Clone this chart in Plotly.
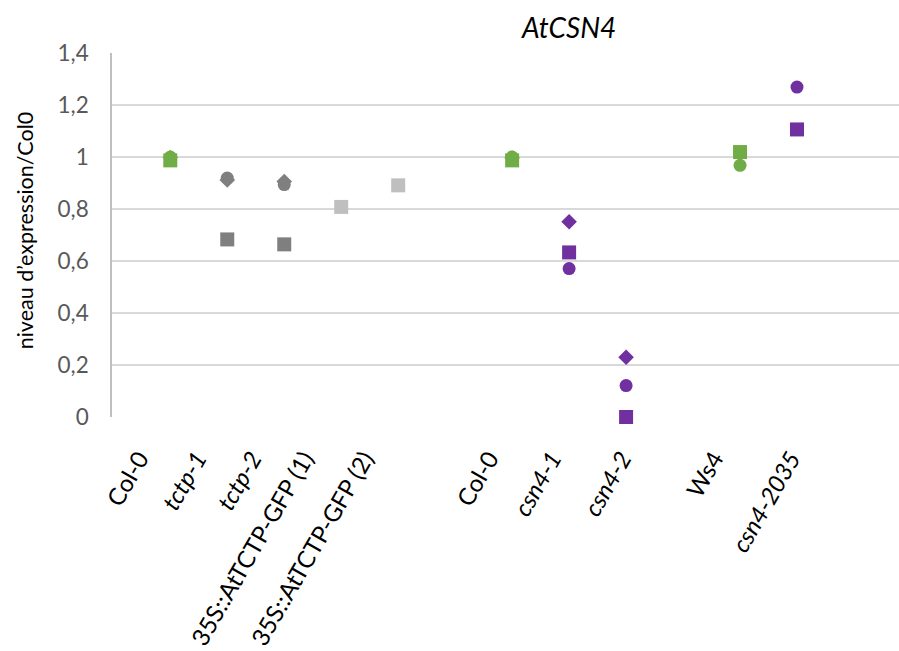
import plotly.graph_objects as go

# ---- data ----
categories = ["Col-0", "<i>tctp-1</i>", "<i>tctp-2</i>", "35S::AtTCTP-GFP (1)", "35S::AtTCTP-GFP (2)", "",
              "Col-0", "<i>csn4-1</i>", "<i>csn4-2</i>", "", "Ws4", "<i>csn4-2035</i>"]
rep_diamond = [0.998, 0.912, 0.906, None, None, None, 0.996, 0.751, 0.230, None, None, None]
rep_circle = [1.000, 0.919, 0.894, None, None, None, 1.000, 0.571, 0.121, None, 0.968, 1.269]
rep_square = [0.987, 0.683, 0.664, 0.808, 0.891, None, 0.987, 0.633, 0.000, None, 1.019, 1.106]
groups = ["ctrl", "tctp", "tctp", "oe", "oe", "", "ctrl", "csn", "csn", "", "ctrl", "csn"]
y_tick_vals = [0, 0.2, 0.4, 0.6, 0.8, 1.0, 1.2, 1.4]
y_tick_text = ["0", "0,2", "0,4", "0,6", "0,8", "1", "1,2", "1,4"]

# ---- style ----
group_colors = {"ctrl": "#70AD47", "tctp": "#7F7F7F", "oe": "#BFBFBF", "csn": "#7030A0", "": "#000000"}
colors = [group_colors[g] for g in groups]
x_idx = list(range(len(categories)))
# label placement tweaks (pixels) relative to the marker column
label_shift_px = [-7, -6, -8, -13, -10, 0, 1, 7, 20, 0, -2, 18]
PX_PER_CAT = 57.0

FONT = "Lato"

fig = go.Figure()
for vals, sym, size in [(rep_diamond, "diamond", 12), (rep_circle, "circle", 13), (rep_square, "square", 14)]:
    fig.add_trace(go.Scatter(
        x=x_idx, y=vals, mode="markers",
        marker=dict(symbol=sym, size=size, color=colors, line=dict(width=0)),
        cliponaxis=False, showlegend=False, hoverinfo="y",
    ))

label_offset = 0.42
fig.update_layout(
    width=899, height=651,
    margin=dict(l=112, r=0, t=53, b=234, autoexpand=False),
    paper_bgcolor="white", plot_bgcolor="white",
    font=dict(family=FONT, color="#000000"),
    xaxis=dict(
        range=[-1.023, 12.79],
        tickmode="array",
        tickvals=[i - label_offset + s / PX_PER_CAT for i, s in zip(x_idx, label_shift_px)],
        ticktext=categories,
        tickangle=-60,
        tickfont=dict(size=24, color="#000000", family=FONT),
        showgrid=False, zeroline=False, showline=False,
        ticks="", ticklabelstandoff=22, automargin=False,
    ),
    yaxis=dict(
        range=[0, 1.4],
        tickmode="array",
        tickvals=y_tick_vals,
        ticktext=y_tick_text,
        tickfont=dict(size=22.5, color="#595959", family=FONT),
        showgrid=True, gridcolor="#D9D9D9", gridwidth=1.6,
        zeroline=False,
        showline=True, linecolor="#BFBFBF", linewidth=1.6,
        ticks="", ticklabelstandoff=17, automargin=False,
    ),
    annotations=[
        dict(text="<i>AtCSN4</i>", xref="paper", yref="paper",
             x=(568 - 112) / 787, y=(416.7 - 27) / 364,
             xanchor="center", yanchor="middle", showarrow=False,
             font=dict(size=28, color="#000000", family=FONT)),
        dict(text="niveau d\u2019expression/Col0", xref="paper", yref="paper",
             x=(25 - 112) / 787, y=(416.7 - 230) / 364, textangle=-90,
             xanchor="center", yanchor="middle", showarrow=False,
             font=dict(size=21.5, color="#000000", family=FONT)),
    ],
)

fig.write_html(
    "out.html",
    config={"displayModeBar": False},
    post_script="document.body.style.margin='0';document.body.style.overflow='hidden';document.documentElement.style.overflow='hidden';",
)
